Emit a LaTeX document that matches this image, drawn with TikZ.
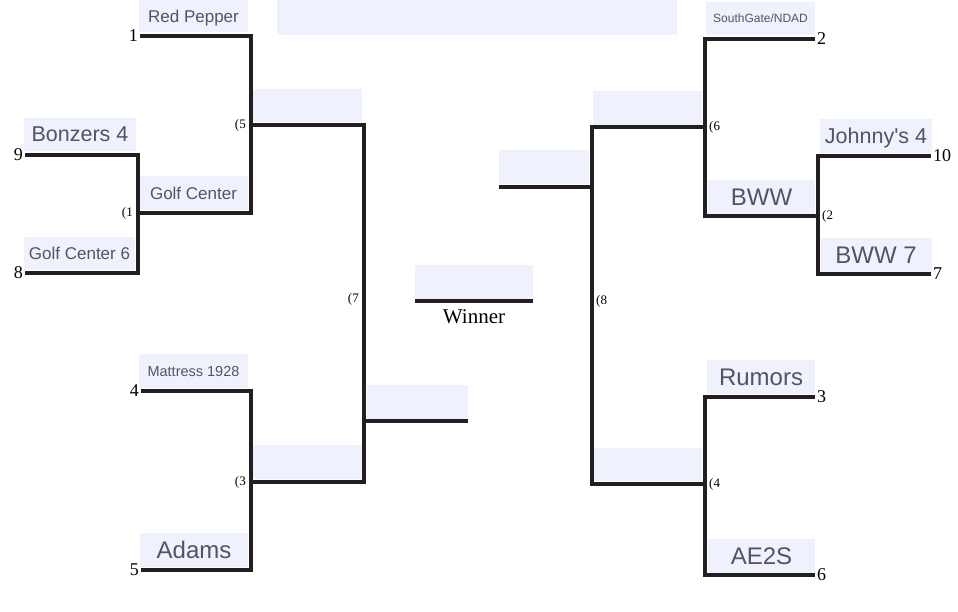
\documentclass[tikz,border=0pt]{standalone}
\usepackage{fontspec}
\setmainfont{Liberation Serif}
\newfontfamily\arialf{Liberation Sans}
\definecolor{boxc}{RGB}{239,242,253}
\definecolor{txtc}{RGB}{84,84,94}
\definecolor{linec}{RGB}{35,31,32}
\tikzset{
  box/.style={fill=boxc, draw=none, inner sep=0pt, text depth=0pt, font=\arialf, text=txtc},
  bline/.style={draw=linec, line width=3.8pt, line join=miter, line cap=butt},
  seedl/.style={anchor=east, inner sep=0pt, text depth=0pt, font=\fontsize{18}{18}\selectfont, xshift=-2pt},
  seedr/.style={anchor=west, inner sep=0pt, text depth=0pt, font=\fontsize{18}{18}\selectfont, xshift=2pt},
  gl/.style={anchor=east, inner sep=0pt, font=\fontsize{13}{13}\selectfont, xshift=-5pt},
  gr/.style={anchor=west, inner sep=0pt, font=\fontsize{13}{13}\selectfont, xshift=4pt},
}
\begin{document}
\begin{tikzpicture}[x=1pt,y=-1pt]
\useasboundingbox (0,0) rectangle (958,611);
% boxes
\node[box, minimum width=400pt, minimum height=35pt] (top) at (477,17.5) {};
\node[box, minimum width=109pt, minimum height=32pt, font=\arialf\fontsize{17}{17}\selectfont] (rp) at (193.5,16) {Red Pepper};
\node[box, minimum width=110pt, minimum height=33pt] (b5) at (307,105.5) {};
\node[box, minimum width=112pt, minimum height=33pt, font=\arialf\fontsize{21.5}{21.5}\selectfont] (bz) at (80,134.5) {Bonzers 4};
\node[box, minimum width=109pt, minimum height=34pt, font=\arialf\fontsize{17}{17}\selectfont] (gc) at (193.5,193) {Golf Center};
\node[box, minimum width=111pt, minimum height=33pt, font=\arialf\fontsize{17}{17}\selectfont] (gc6) at (79.5,253.5) {Golf Center 6};
\node[box, minimum width=109pt, minimum height=34pt, font=\arialf\fontsize{14.5}{14.5}\selectfont] (mt) at (193.5,371) {Mattress 1928};
\node[box, minimum width=110pt, minimum height=34pt] (b3) at (307,462) {};
\node[box, minimum width=108pt, minimum height=34pt, font=\arialf\fontsize{24}{24}\selectfont] (ad) at (194,550) {Adams};
\node[box, minimum width=101pt, minimum height=34pt] (b7) at (417.5,402) {};
\node[box, minimum width=118pt, minimum height=34pt] (bw) at (474,282) {};
\node[box, minimum width=90pt, minimum height=34pt] (b8) at (544,167) {};
\node[box, minimum width=109pt, minimum height=34pt] (b6) at (647,108) {};
\node[box, minimum width=109pt, minimum height=33pt, font=\arialf\fontsize{12}{12}\selectfont] (sg) at (760.5,18.5) {SouthGate/NDAD};
\node[box, minimum width=107pt, minimum height=34pt, font=\arialf\fontsize{24}{24}\selectfont] (bww) at (761.5,197) {BWW};
\node[box, minimum width=112pt, minimum height=34pt, font=\arialf\fontsize{21.5}{21.5}\selectfont] (jo) at (876,136) {Johnny's 4};
\node[box, minimum width=111pt, minimum height=35pt, font=\arialf\fontsize{24}{24}\selectfont] (bww7) at (876,255.5) {BWW 7};
\node[box, minimum width=108pt, minimum height=34pt, font=\arialf\fontsize{24}{24}\selectfont] (ru) at (761,377) {Rumors};
\node[box, minimum width=110pt, minimum height=33pt] (b4) at (647,464.5) {};
\node[box, minimum width=107pt, minimum height=34pt, font=\arialf\fontsize{24}{24}\selectfont] (ae) at (761.5,556) {AE2S};
% coordinates
\coordinate (s1) at (140,36);
\coordinate (s9) at (25,155);
\coordinate (s8) at (25,273);
\coordinate (s4) at (141,391);
\coordinate (s5) at (141,570);
\coordinate (j1) at (138,213);
\coordinate (j5) at (251,125);
\coordinate (j3) at (251,482);
\coordinate (j7) at (364,421);
\coordinate (w7) at (468,421);
\coordinate (m7) at (364,299);
\coordinate (s2) at (815,39);
\coordinate (s10) at (931,156);
\coordinate (s7) at (931,274);
\coordinate (s3) at (815,397);
\coordinate (s6) at (815,575);
\coordinate (j2) at (818,216);
\coordinate (j6) at (705,127);
\coordinate (j4) at (705,484);
\coordinate (j8) at (592,187);
\coordinate (w8) at (499,187);
\coordinate (m8) at (592,301);
\coordinate (wl) at (415,301);
\coordinate (wr) at (533,301);
% lines
\draw[bline] (s9) -| (j1) |- (s8);
\draw[bline] (s1) -| (j5) |- (j1);
\draw[bline] (s4) -| (j3) |- (s5);
\draw[bline] (j5) -| (j7) |- (j3);
\draw[bline] (j7) -- (w7);
\draw[bline] (s10) -| (j2) |- (s7);
\draw[bline] (s2) -| (j6) |- (j2);
\draw[bline] (s3) -| (j4) |- (s6);
\draw[bline] (j6) -| (j8) |- (j4);
\draw[bline] (j8) -- (w8);
\draw[bline] (wl) -- (wr);
% winner label
\node[anchor=north, inner sep=0pt, font=\fontsize{21}{21}\selectfont] (wt) at (474,309) {Winner};
% seeds
\node[seedl] (n1) at (s1) {1};
\node[seedl] (n9) at (s9) {9};
\node[seedl] (n8) at (s8) {8};
\node[seedl] (n4) at (s4) {4};
\node[seedl] (n5) at (s5) {5};
\node[seedr] (n2) at (s2) {2};
\node[seedr] (n10) at (s10) {10};
\node[seedr] (n7) at (s7) {7};
\node[seedr] (n3) at (s3) {3};
\node[seedr] (n6) at (s6) {6};
% game labels
\node[gl] (g1) at (j1) {(1};
\node[gl] (g5) at (j5) {(5};
\node[gl] (g3) at (j3) {(3};
\node[gl] (g7) at (m7) {(7};
\node[gr] (g6) at (j6) {(6};
\node[gr] (g2) at (j2) {(2};
\node[gr] (g4) at (j4) {(4};
\node[gr] (g8) at (m8) {(8};
\end{tikzpicture}
\end{document}
